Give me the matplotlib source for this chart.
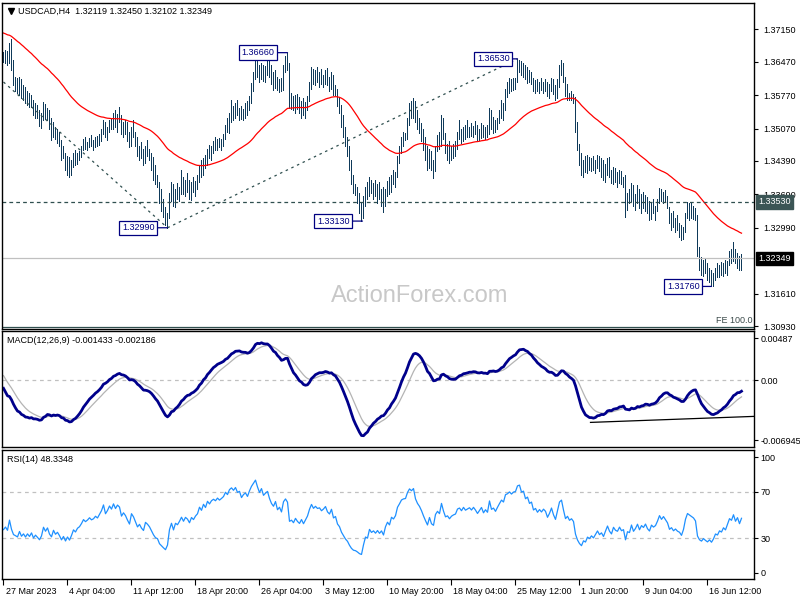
import numpy as np
import matplotlib
matplotlib.use("Agg")
import matplotlib.pyplot as plt
import matplotlib.transforms as mtransforms

plt.rcParams['font.family'] = ['Liberation Sans', 'DejaVu Sans']

# USDCAD H4 bars, pips above 1.3000
BASE = 1.3
HIGH = [
    667, 672, 670, 686, 695, 651, 615, 612, 615, 610,
    598, 594, 586, 582, 578, 567, 560, 556, 546, 540,
    562, 558, 550, 546, 530, 520, 510, 505, 500, 483,
    470, 455, 450, 448, 440, 455, 462, 455, 460, 470,
    485, 490, 478, 488, 493, 482, 490, 492, 495, 505,
    525, 520, 510, 525, 530, 540, 545, 538, 552, 535,
    520, 525, 520, 500, 510, 525, 500, 489, 470, 478,
    465, 470, 483, 465, 455, 447, 430, 410, 394, 380,
    360, 343, 330, 372, 395, 390, 380, 393, 385, 420,
    405, 400, 414, 400, 395, 405, 398, 410, 430, 440,
    445, 452, 465, 472, 470, 480, 489, 485, 488, 486,
    495, 515, 530, 540, 567, 555, 560, 567, 550, 555,
    548, 560, 565, 575, 602, 625, 655, 650, 640, 644,
    640, 638, 651, 648, 640, 625, 630, 615, 610, 612,
    640, 660, 666, 645, 582, 575, 578, 580, 573, 565,
    570, 562, 575, 605, 636, 632, 630, 636, 625, 632,
    620, 630, 634, 615, 625, 620, 598, 590, 573, 556,
    535, 510, 490, 470, 440, 410, 390, 385, 372, 350,
    365, 385, 395, 406, 400, 392, 399, 390, 395, 380,
    385, 380, 398, 405, 410, 420, 415, 450, 470, 490,
    500, 498, 530, 560, 565, 571, 565, 546, 530, 518,
    505, 490, 470, 465, 460, 440, 470, 493, 500, 535,
    530, 497, 475, 480, 470, 475, 480, 500, 525, 505,
    510, 515, 525, 510, 518, 512, 522, 515, 505, 518,
    515, 510, 515, 550, 545, 531, 525, 530, 545, 567,
    560, 590, 604, 613, 610, 612, 613, 653, 650, 648,
    644, 640, 635, 630, 625, 613, 608, 610, 605, 613,
    605, 610, 605, 600, 613, 610, 598, 610, 640, 651,
    645, 615, 600, 582, 585, 580, 573, 520, 475, 455,
    440, 450, 452, 448, 445, 450, 440, 452, 450, 445,
    440, 432, 445, 448, 420, 427, 425, 415, 420, 418,
    405, 410, 372, 380, 393, 388, 370, 389, 380, 370,
    375, 368, 364, 355, 350, 360, 345, 360, 382, 380,
    375, 378, 365, 343, 330, 335, 320, 325, 310, 305,
    300, 330, 353, 350, 352, 345, 340, 326, 258, 238,
    232, 235, 225, 215, 210, 204, 215, 225, 220, 228,
    225, 232, 230, 250, 255, 269, 255, 246, 240, 245,
]
LOW = [
    646, 645, 640, 645, 630, 598, 585, 582, 578, 570,
    567, 560, 556, 552, 552, 535, 529, 530, 512, 508,
    525, 528, 525, 505, 483, 490, 485, 476, 470, 441,
    445, 420, 410, 405, 410, 426, 430, 432, 440, 448,
    462, 465, 462, 468, 470, 462, 468, 470, 472, 480,
    495, 490, 483, 500, 505, 505, 510, 500, 520, 495,
    489, 495, 480, 468, 470, 490, 470, 450, 440, 445,
    431, 435, 450, 440, 420, 400, 390, 384, 350, 335,
    322, 305, 299, 320, 355, 345, 343, 360, 355, 370,
    370, 365, 375, 360, 357, 375, 365, 380, 395, 405,
    410, 425, 430, 445, 441, 455, 462, 462, 468, 462,
    470, 485, 500, 497, 520, 525, 530, 535, 525, 528,
    525, 530, 535, 546, 560, 585, 610, 615, 604, 610,
    606, 604, 620, 615, 600, 588, 592, 588, 584, 585,
    588, 625, 630, 551, 548, 545, 540, 548, 540, 529,
    535, 530, 545, 565, 590, 600, 598, 605, 595, 600,
    594, 600, 598, 585, 590, 577, 577, 555, 540, 510,
    490, 470, 450, 420, 390, 372, 368, 350, 330, 313,
    320, 345, 360, 365, 372, 360, 365, 350, 360, 345,
    332, 345, 365, 370, 375, 390, 385, 405, 435, 455,
    470, 483, 485, 515, 530, 530, 520, 505, 497, 480,
    462, 440, 420, 425, 420, 403, 418, 460, 465, 470,
    485, 455, 440, 435, 440, 445, 450, 465, 485, 476,
    480, 485, 489, 489, 492, 490, 495, 483, 483, 488,
    490, 485, 490, 495, 505, 497, 500, 505, 518, 530,
    525, 545, 573, 582, 585, 588, 590, 605, 625, 620,
    615, 610, 602, 605, 600, 585, 582, 585, 582, 588,
    582, 585, 575, 570, 585, 580, 567, 570, 595, 620,
    605, 575, 567, 567, 567, 560, 500, 462, 430, 410,
    405, 415, 414, 420, 418, 420, 414, 425, 418, 405,
    400, 395, 410, 405, 393, 390, 395, 385, 392, 390,
    385, 322, 336, 350, 355, 345, 336, 350, 340, 330,
    340, 335, 330, 315, 318, 330, 315, 335, 350, 355,
    351, 352, 340, 310, 295, 300, 290, 295, 280, 273,
    275, 290, 320, 315, 320, 318, 315, 240, 211, 200,
    198, 205, 190, 185, 180, 176, 190, 196, 195, 200,
    198, 205, 200, 220, 225, 230, 225, 215, 211, 210,
]
CLOSE = [
    655, 662, 648, 678, 636, 605, 598, 590, 606, 578,
    585, 566, 575, 560, 570, 540, 548, 535, 520, 530,
    555, 535, 545, 512, 495, 515, 492, 498, 478, 450,
    460, 428, 440, 418, 432, 450, 438, 450, 455, 465,
    478, 470, 475, 482, 475, 478, 485, 480, 490, 500,
    518, 495, 505, 520, 512, 530, 518, 530, 525, 500,
    510, 502, 488, 475, 505, 495, 478, 458, 465, 450,
    440, 462, 455, 445, 428, 410, 395, 390, 360, 345,
    330, 315, 325, 365, 385, 352, 375, 368, 380, 395,
    378, 392, 385, 370, 388, 380, 392, 400, 425, 415,
    440, 430, 458, 450, 465, 472, 468, 480, 475, 482,
    490, 510, 505, 530, 540, 535, 550, 540, 545, 532,
    545, 552, 545, 570, 595, 615, 640, 625, 612, 635,
    618, 630, 640, 622, 608, 600, 620, 595, 605, 590,
    635, 650, 640, 560, 565, 552, 570, 555, 545, 560,
    540, 555, 570, 600, 625, 610, 620, 612, 615, 605,
    612, 622, 605, 598, 615, 585, 590, 560, 548, 520,
    500, 478, 462, 430, 400, 380, 375, 360, 340, 330,
    355, 378, 370, 398, 380, 385, 372, 380, 365, 372,
    350, 375, 390, 378, 405, 398, 410, 445, 462, 482,
    488, 490, 525, 550, 545, 560, 530, 515, 505, 490,
    470, 450, 430, 458, 428, 420, 465, 480, 470, 525,
    490, 460, 465, 450, 462, 468, 472, 495, 500, 490,
    505, 495, 500, 505, 498, 508, 500, 490, 500, 510,
    495, 505, 498, 540, 515, 520, 510, 525, 540, 555,
    550, 585, 590, 600, 595, 605, 608, 640, 645, 630,
    635, 618, 625, 610, 615, 595, 600, 590, 598, 592,
    600, 595, 580, 590, 605, 588, 575, 600, 632, 640,
    612, 582, 590, 575, 580, 570, 510, 470, 440, 420,
    435, 425, 440, 430, 438, 425, 435, 445, 425, 430,
    410, 425, 440, 415, 400, 420, 405, 400, 412, 395,
    398, 340, 365, 360, 385, 350, 360, 375, 345, 360,
    350, 362, 338, 325, 345, 335, 340, 355, 375, 360,
    370, 358, 345, 315, 320, 305, 310, 300, 295, 280,
    295, 325, 345, 340, 335, 330, 320, 250, 225, 215,
    222, 210, 200, 205, 190, 198, 210, 205, 215, 210,
    220, 212, 225, 240, 235, 250, 230, 240, 220, 235,
]

DATE_TICKS = [0, 32, 64, 96, 128, 160, 192, 224, 256, 288, 320, 352]
DATE_LABELS = ["27 Mar 2023", "4 Apr 04:00", "11 Apr 12:00", "18 Apr 20:00",
               "26 Apr 04:00", "3 May 12:00", "10 May 20:00", "18 May 04:00",
               "25 May 12:00", "1 Jun 20:00", "9 Jun 04:00", "16 Jun 12:00"]
PRICE_TICKS = [1.37150, 1.36470, 1.35770, 1.35070, 1.34390, 1.33690,
               1.32990, 1.31610, 1.30930]
MACD_TICKS = [0.00487, 0.0, -0.006945]
MACD_TICKLABELS = ["0.00487", "0.00", "-0.006945"]
RSI_TICKS = [100, 70, 30, 0]

# indicator state at the left edge (earlier history is off-screen)
MA_SEED = 1.3709
EMA12_SEED, EMA26_SEED = 1.3738, 1.3741
SIGNAL_SEED = 0.0009
GAIN_SEED, LOSS_SEED = 0.0006, 0.0010

# swing labels: (bar, price, bar where the box ends)
SWINGS = [(142, 1.36660, 135.5), (82, 1.32990, 75.5), (179.5, 1.33130, 173),
          (257, 1.36530, 253), (354, 1.31760, 348)]
TREND_DOWN = [(0, 82), (1.36045, 1.32990)]
TREND_UP = [(82, 257), (1.32990, 1.36530)]
LEVEL = 1.33530
LAST = 1.32349
FE_LEVEL = 1.3092
MACD_SUPPORT = [(293.5, 375.5), (-0.0049, -0.0042)]

BAR_C = "#0f3a5a"
NAVY = "#000080"
SLATE = "#2f4f4f"

hi = BASE + np.array(HIGH) / 1e4
lo = BASE + np.array(LOW) / 1e4
cl = BASE + np.array(CLOSE) / 1e4
idx = np.arange(len(cl))


def ema(x, n, seed):
    a = 2.0 / (n + 1)
    out = np.empty(len(x))
    prev = seed
    for k, v in enumerate(x):
        prev += a * (v - prev)
        out[k] = prev
    return out


ma = ema(cl, 55, MA_SEED)
macd = ema(cl, 12, EMA12_SEED) - ema(cl, 26, EMA26_SEED)
signal = ema(macd, 9, SIGNAL_SEED)
d = np.diff(cl, prepend=cl[0])
ag, al = GAIN_SEED, LOSS_SEED
rsi = []
for v in d:
    ag = (ag * 13 + max(v, 0)) / 14
    al = (al * 13 + max(-v, 0)) / 14
    rsi.append(100 - 100 / (1 + ag / al))

fig = plt.figure(figsize=(8, 6), dpi=100)


def panel(top, bottom, left=2, right=754, pad=3):
    a = fig.add_axes([left / 800, 1 - bottom / 600, (right - left) / 800, (bottom - top) / 600])
    a.set_xlim(-0.75, 375.25)   # 2 px per bar, bar 0 on pixel column 3
    a.yaxis.tick_right()
    a.tick_params(axis="y", direction="out", length=3, pad=pad, labelsize=6.5, width=0.8)
    a.tick_params(axis="x", bottom=False, labelbottom=False)
    for s in a.spines.values():
        s.set_linewidth(1.0); s.set_color("black")
    return a


ax = panel(3, 329, pad=4)
axm = panel(331, 447, pad=1.5)
axr = panel(450, 579, pad=1.5)

# --- price panel
ax.set_ylim(1.30868, 1.37701)
ax.vlines(idx, lo, hi, color=BAR_C, lw=0.5, antialiased=False)
ax.plot(idx, ma, color="red", lw=0.9)
ax.plot(*TREND_DOWN, color=SLATE, lw=0.9, ls=(0, (2, 3)))
ax.plot(*TREND_UP, color=SLATE, lw=0.9, ls=(0, (2, 3)))
ax.axhline(LEVEL, color=SLATE, lw=0.9, ls=(0, (3, 2.5)))
ax.axhline(LAST, color="#c0c0c0", lw=0.9)
ax.axhline(FE_LEVEL, color=SLATE, lw=0.9)
ax.set_yticks(PRICE_TICKS)
ax.set_yticklabels([f"{t:.5f}" for t in PRICE_TICKS])
for bar, price, txt_x in SWINGS:
    ax.annotate(f"{price:.5f}", xy=(bar, price), xytext=(txt_x, price),
                ha="right", va="center", fontsize=6.5, color=NAVY,
                bbox=dict(boxstyle="square,pad=0.3", fc="white", ec=NAVY, lw=0.9),
                arrowprops=dict(arrowstyle="-", color=NAVY, lw=0.9, shrinkA=0, shrinkB=0))
yt = ax.get_yaxis_transform()
ax.text(1.0 + 4 / 752, LEVEL, f"{LEVEL:.5f}", transform=yt, ha="left", va="center",
        fontsize=6.5, color="white", clip_on=False, zorder=5,
        bbox=dict(boxstyle="square,pad=0.25", fc="#3b5555", ec="#3b5555"))
ax.text(1.0 + 4 / 752, LAST, f"{LAST:.5f}", transform=yt, ha="left", va="center",
        fontsize=6.5, color="white", clip_on=False, zorder=5,
        bbox=dict(boxstyle="square,pad=0.25", fc="black", ec="black"))
ax.text(0.998, 0.012, "FE 100.0", transform=ax.transAxes, ha="right", va="bottom",
        fontsize=6.5, color="#3b4a4a")
ax.text(0.555, 0.10, "ActionForex.com", transform=ax.transAxes, ha="center", va="center",
        fontsize=17, color="#c8c8c8")
ax.plot([0.012], [0.975], marker="v", ms=4.5, color="black", transform=ax.transAxes,
        clip_on=False)
ax.text(0.021, 0.975, "USDCAD,H4  1.32119 1.32450 1.32102 1.32349",
        transform=ax.transAxes, ha="left", va="center", fontsize=6.5)

# --- MACD panel
axm.set_ylim(-0.007758, 0.005718)
axm.axhline(0, color="#c0c0c0", lw=0.9, ls=(0, (3, 3)))
axm.plot(idx, signal, color="#b4b4b4", lw=0.9)
axm.plot(idx, macd, color="#00008b", lw=2.0)
axm.plot(*MACD_SUPPORT, color="black", lw=0.9)
axm.set_yticks(MACD_TICKS)
axm.set_yticklabels(MACD_TICKLABELS)
axm.text(0.007, 0.92, "MACD(12,26,9) -0.001433 -0.002186", transform=axm.transAxes,
         ha="left", va="center", fontsize=6.5)

# --- RSI panel
axr.set_ylim(-5.2, 106.3)
axr.axhline(70, color="#c0c0c0", lw=0.9, ls=(0, (3, 3)))
axr.axhline(30, color="#c0c0c0", lw=0.9, ls=(0, (3, 3)))
axr.plot(idx, rsi, color="#1e90ff", lw=0.9)
axr.set_yticks(RSI_TICKS)
axr.set_yticklabels([str(t) for t in RSI_TICKS])
axr.text(0.007, 0.93, "RSI(14) 48.3348", transform=axr.transAxes,
         ha="left", va="center", fontsize=6.5)
axr.tick_params(axis="x", bottom=True, labelbottom=True, direction="out", length=4,
                pad=2, labelsize=6.5, width=0.8)
axr.set_xticks(DATE_TICKS)
axr.set_xticklabels(DATE_LABELS)
off = mtransforms.ScaledTranslation(2 / 100, 0, fig.dpi_scale_trans)
for lbl in axr.get_xticklabels():
    lbl.set_ha("left")
    lbl.set_transform(lbl.get_transform() + off)

fig.savefig("out.png", dpi=100)
